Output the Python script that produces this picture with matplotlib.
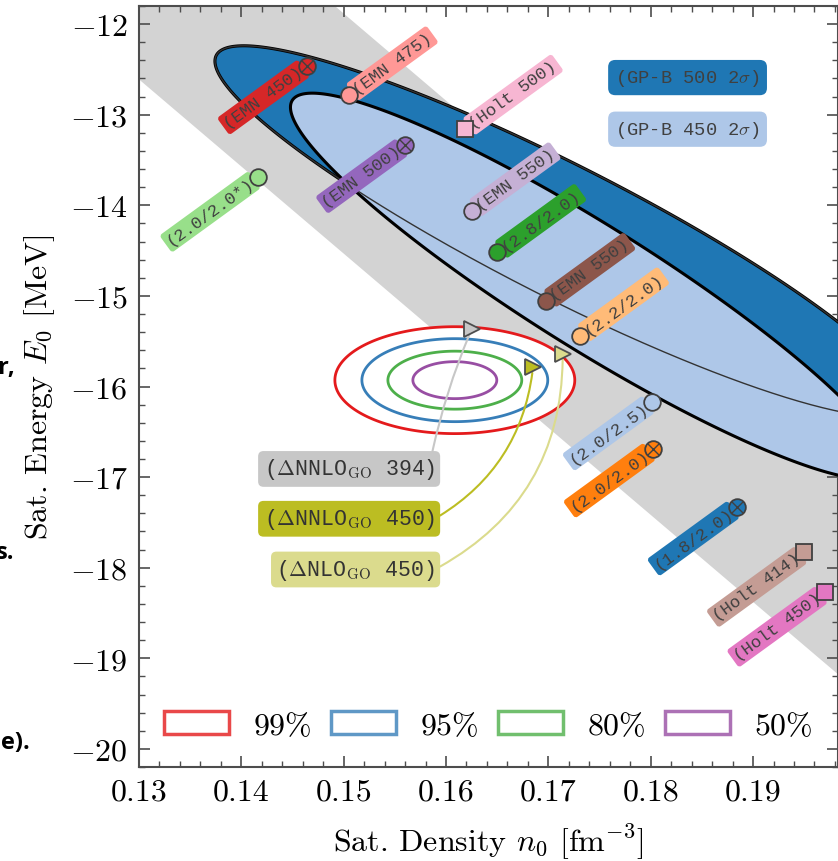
import numpy as np
import matplotlib
matplotlib.use("Agg")
import matplotlib.pyplot as plt
from matplotlib.patches import Patch, Polygon

plt.rcParams["font.family"] = "serif"
plt.rcParams["font.serif"] = ["cmr10"]
plt.rcParams["mathtext.fontset"] = "cm"
plt.rcParams["axes.formatter.use_mathtext"] = True

# gray band (corners)
band_n = [0.13, 0.20, 0.20, 0.13]
band_E = [-9.96, -16.69, -19.34, -12.61]

# GP-B 2 sigma ellipses
gp_labels = [r"(GP-B 500 2$\sigma$)", r"(GP-B 450 2$\sigma$)"]
gp_center_n = [0.1713, 0.1740]
gp_center_E = [-14.285, -14.892]
gp_std_n = [0.01694, 0.0146]
gp_std_E = [1.023, 1.065]
gp_rho = [-0.917, -0.927]
gp_colors = ["#1f77b4", "#aec7e8"]
gp_label_n = [0.1836, 0.1836]
gp_label_E = [-12.59, -13.16]

# empirical saturation region
levels = ["99%", "95%", "80%", "50%"]
emp_n0 = 0.16086
emp_E0 = -15.93
emp_half_n = [0.01172, 0.00908, 0.00654, 0.0041]
emp_half_E = [0.59, 0.458, 0.32, 0.204]
emp_colors = ["#e41a1c", "#377eb8", "#4daf4a", "#984ea3"]

# individual saturation points
pt_labels = ["(EMN 450)", "(EMN 475)", "(Holt 500)", "(EMN 500)", "(2.0/2.0*)",
             "(EMN 550)", "(2.8/2.0)", "(EMN 550)", "(2.2/2.0)", "(2.0/2.5)",
             "(2.0/2.0)", "(1.8/2.0)", "(Holt 414)", "(Holt 450)"]
pt_n = [0.1464, 0.1505, 0.1619, 0.1560, 0.1416, 0.1625, 0.1650, 0.1698,
        0.1731, 0.1801, 0.1802, 0.1884, 0.1950, 0.1970]
pt_E = [-12.46, -12.78, -13.16, -13.33, -13.69, -14.06, -14.52, -15.06,
        -15.44, -16.17, -16.69, -17.33, -17.83, -18.27]
pt_colors = ["#d62728", "#ff9896", "#f7b6d2", "#9467bd", "#98df8a", "#c5b0d5",
             "#2ca02c", "#8c564b", "#ffbb78", "#aec7e8", "#ff7f0e", "#1f77b4",
             "#c49c94", "#e377c2"]
pt_markers = ["o", "o", "s", "o", "o", "o", "o", "o", "o", "o", "o", "o", "s", "s"]
pt_cross = [True, False, False, True, False, False, False, False, False, False,
            True, True, False, False]
pt_side = ["ll", "ur", "ur", "ll", "ll", "ur", "ur", "ur", "ur", "ll", "ll", "ll", "ll", "ll"]

# Delta-full chiral EFT points
delta_labels = [r"($\Delta$NNLO$_{\rm GO}$ 394)", r"($\Delta$NNLO$_{\rm GO}$ 450)",
                r"($\Delta$NLO$_{\rm GO}$ 450)"]
delta_n = [0.1625, 0.1685, 0.1714]
delta_E = [-15.37, -15.79, -15.64]
delta_colors = ["#c7c7c7", "#bcbd22", "#dbdb8d"]
delta_text_n = 0.1589
delta_text_E = [-16.91, -17.46, -18.02]

mono = "Liberation Mono"


def ellipse(cn, cE, sn, sE, rho, k=2.0):
    t = np.linspace(0, 2 * np.pi, 500)
    x = cn + k * sn * np.cos(t)
    y = cE + k * sE * (rho * np.cos(t) + np.sqrt(1 - rho ** 2) * np.sin(t))
    return x, y


fig = plt.figure(figsize=(8.38, 8.62), dpi=100)
ax = fig.add_axes([139 / 838, 1 - 768 / 862, 699 / 838, 761 / 862])

ax.add_patch(Polygon(np.column_stack([band_n, band_E]), closed=True,
                     facecolor="lightgray", edgecolor="none", zorder=1))

# empirical ellipses (white inside)
for hn, hE, c in zip(emp_half_n, emp_half_E, emp_colors):
    x, y = ellipse(emp_n0, emp_E0, hn, hE, 0.0, k=1.0)
    ax.fill(x, y, facecolor="white", edgecolor=c, lw=2, zorder=2)

# GP-B ellipses
xs = []
for i in range(2):
    x, y = ellipse(gp_center_n[i], gp_center_E[i], gp_std_n[i], gp_std_E[i], gp_rho[i])
    xs.append((x, y))
    ax.fill(x, y, facecolor=gp_colors[i], edgecolor="black", lw=2.2, zorder=3 + i)
ax.plot(xs[0][0], xs[0][1], color="0.2", lw=1.0, zorder=5)

for i in range(2):
    ax.text(gp_label_n[i], gp_label_E[i], gp_labels[i], ha="center", va="center",
            fontsize=13.5, family=mono, color="0.25", zorder=8,
            bbox=dict(boxstyle="round,pad=0.38", fc=gp_colors[i], ec="none"))

ang = 36
for i in range(len(pt_labels)):
    c = pt_colors[i]
    ax.plot(pt_n[i], pt_E[i], marker=pt_markers[i], ms=12, mfc=c, mec="0.25",
            mew=1.3, ls="none", zorder=10)
    if pt_cross[i]:
        ax.plot(pt_n[i], pt_E[i], marker="x", ms=8, mec="0.25", mew=1.0,
                ls="none", zorder=11)
    d = 5
    if pt_side[i] == "ll":
        off = (-d * np.cos(np.radians(ang)), -d * np.sin(np.radians(ang)))
        ha = "right"
    else:
        off = (d * np.cos(np.radians(ang)), d * np.sin(np.radians(ang)))
        ha = "left"
    ax.annotate(pt_labels[i], xy=(pt_n[i], pt_E[i]), xytext=off,
                textcoords="offset points", rotation=ang, rotation_mode="anchor",
                ha=ha, va="center", fontsize=12.5, family=mono, color="0.25", zorder=9,
                bbox=dict(boxstyle="round,pad=0.18", fc=c, ec="none"))

rads = [-0.05, 0.25, 0.3]
rel = [(0.98, 1.0), (1.0, 0.5), (1.0, 0.5)]
for i in range(3):
    c = delta_colors[i]
    ax.plot(delta_n[i], delta_E[i], marker=">", ms=11, mfc=c, mec="0.3", mew=1.3,
            ls="none", zorder=12)
    ax.annotate(delta_labels[i], xy=(delta_n[i], delta_E[i]),
                xytext=(delta_text_n, delta_text_E[i]), ha="right", va="center",
                fontsize=15.5, family=mono, color="0.2", zorder=9,
                bbox=dict(boxstyle="round,pad=0.25", fc=c, ec="none"),
                arrowprops=dict(arrowstyle="-", color=c, lw=1.5, relpos=rel[i],
                                shrinkA=0, shrinkB=4,
                                connectionstyle="arc3,rad=%g" % rads[i]))

handles = [Patch(facecolor="white", edgecolor=c, lw=2.5, alpha=0.8) for c in emp_colors]
ax.legend(handles, levels, loc="lower center", ncol=4, frameon=False, fontsize=23,
          handlelength=2.04, handleheight=0.72, handletextpad=0.75, columnspacing=0.6,
          borderaxespad=0.45)

ax.set_xlim(0.13, 0.1983)
ax.set_ylim(-20.2, -11.8)
ax.set_xticks(np.arange(0.13, 0.195, 0.01))
ax.set_yticks(np.arange(-20, -11.5, 1))
ax.set_xticks(np.arange(0.13, 0.1985, 0.002), minor=True)
ax.set_yticks(np.arange(-20.2, -11.7, 0.2), minor=True)
ax.xaxis.set_major_formatter(matplotlib.ticker.FormatStrFormatter("%.2f"))
ax.tick_params(which="both", direction="in", top=True, right=True, labelsize=23,
               color="0.3", pad=8)
ax.tick_params(which="major", length=8, width=1.2)
ax.tick_params(which="minor", length=4, width=1.0)
for s in ax.spines.values():
    s.set_color("0.3")
    s.set_linewidth(1.5)

ax.set_xlabel(r"Sat. Density $n_0$ [fm$^{-3}$]", fontsize=23, va="center")
ax.set_ylabel(r"Sat. Energy $E_0$ [MeV]", fontsize=23, va="center")
ax.xaxis.set_label_coords(0.5, -0.098)
ax.yaxis.set_label_coords(-0.1416, 0.5)

# bits of surrounding page text
for txt, xr, yc in [("r,", 15, 368), ("s.", 14, 553), ("e).", 30, 743)]:
    fig.text(xr / 838, 1 - yc / 862, txt, ha="right", va="center", fontsize=17,
             fontweight="bold", family="Open Sans")

plt.savefig("out.png", dpi=100)
